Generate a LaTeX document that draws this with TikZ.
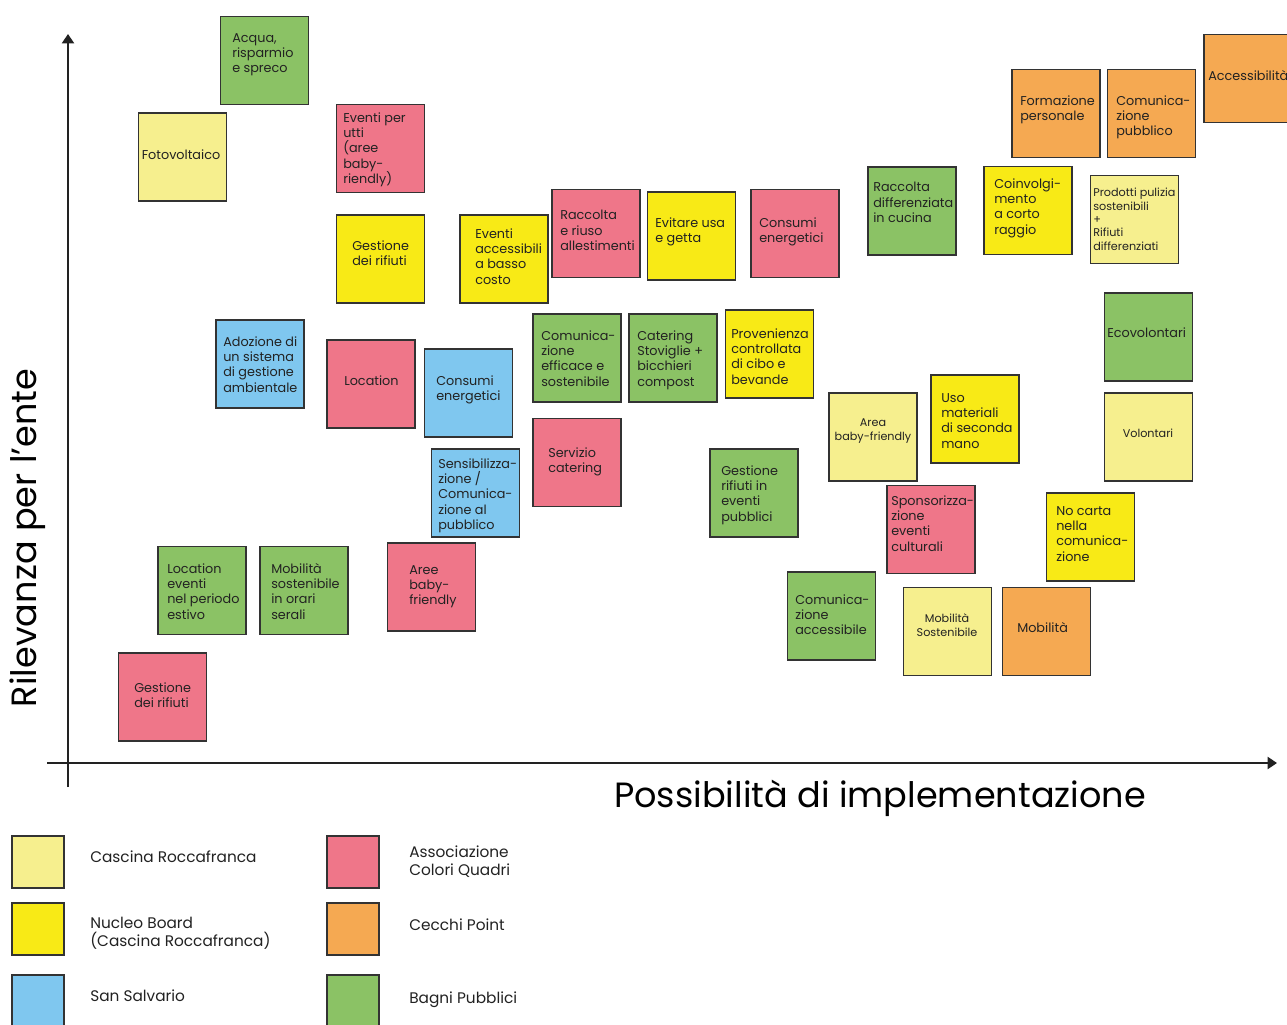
\documentclass[tikz,border=0pt]{standalone}
\usepackage{fontspec}
\setmainfont{Poppins}
\usetikzlibrary{arrows.meta}
\definecolor{cly}{HTML}{F6EF8E}
\definecolor{cyl}{HTML}{F8EA16}
\definecolor{cbl}{HTML}{7FC7EF}
\definecolor{cpk}{HTML}{EF7689}
\definecolor{cor}{HTML}{F5A952}
\definecolor{cgr}{HTML}{8BC265}
\definecolor{cbd}{HTML}{333333}
\definecolor{ctx}{HTML}{222222}
\begin{document}
\begin{tikzpicture}[x=0.75pt,y=-0.75pt,
  note/.style={draw=cbd,line width=1.3pt,minimum width=66pt,minimum height=66pt,inner sep=0pt,outer sep=0pt},
  lsq/.style={draw=cbd,line width=1.3pt,minimum width=39pt,minimum height=39pt,inner sep=0pt,outer sep=0pt},
  txt/.style={anchor=north west,inner sep=0pt,align=left,text=ctx,font=\fontsize{9.6}{11.5}\selectfont},
  stxt/.style={anchor=center,inner sep=0pt,align=center,text=ctx,font=\fontsize{8.4}{10}\selectfont},
  ltxt/.style={anchor=west,inner sep=0pt,align=left,text=ctx,font=\fontsize{11.5}{13.5}\selectfont},
  axis/.style={draw=ctx,line width=1.5pt,-{Triangle[length=7pt,width=9pt]}},
  axlab/.style={inner sep=0pt,text=black,font=\fontsize{26.3}{30}\selectfont}]
\useasboundingbox (0,0) rectangle (1287,1024);
\clip (0,0) rectangle (1287,1024);
\fill[white] (0,0) rectangle (1287,1024);

% axes
\coordinate (yb) at (68,787);
\coordinate (yt) at (68,34);
\coordinate (xl) at (47,763);
\coordinate (xr) at (1277,763);
\draw[axis] (yb) -- (yt);
\draw[axis] (xl) -- (xr);
\node[axlab,rotate=90] (ylab) at (28,538) {Rilevanza per l’ente};
\node[axlab] (xlab) at (880,798) {Possibilità di implementazione};

% notes
\node[note,fill=cgr] (n1) at (264.5,60.5) {};
\node[txt] (t1) at (232,33) {Acqua,\\risparmio\\e spreco};
\node[note,fill=cly] (n2) at (182.5,157) {};
\node[txt,anchor=center] (t2) at (181,155) {Fotovoltaico};
\node[note,fill=cpk] (n3) at (380.5,148.5) {};
\node[txt] (t3) at (343,112) {Eventi per\\utti\\(aree\\baby-\\riendly)};
\node[note,fill=cyl] (n4) at (380.5,259) {};
\node[txt] (t4) at (352,240) {Gestione\\dei rifiuti};
\node[note,fill=cyl] (n5) at (504,259) {};
\node[txt] (t5) at (475,228) {Eventi\\accessibili\\a basso\\costo};
\node[note,fill=cpk] (n6) at (596,233.5) {};
\node[txt] (t6) at (560,210) {Raccolta\\e riuso\\allestimenti};
\node[note,fill=cyl] (n7) at (691.5,236) {};
\node[txt] (t7) at (655,217) {Evitare usa\\e getta};
\node[note,fill=cpk] (n8) at (795,233.5) {};
\node[txt] (t8) at (759,217) {Consumi\\energetici};
\node[note,fill=cgr] (n9) at (912,211) {};
\node[txt] (t9) at (873,182) {Raccolta\\differenziata\\in cucina};
\node[note,fill=cyl] (n10) at (1028,210.5) {};
\node[txt] (t10) at (994,178) {Coinvolgi-\\mento\\a corto\\raggio};
\node[note,fill=cly] (n11) at (1134.5,219.5) {};
\node[txt,font=\fontsize{8.4}{10}\selectfont] (t11) at (1093,188) {Prodotti pulizia\\sostenibili\\+\\Rifiuti\\differenziati};
\node[note,fill=cor] (n12) at (1056,113.5) {};
\node[txt] (t12) at (1020,95) {Formazione\\personale};
\node[note,fill=cor] (n13) at (1151.5,113.5) {};
\node[txt] (t13) at (1116,95) {Comunica-\\zione\\pubblico};
\node[note,fill=cor,minimum width=72pt] (n14) at (1252,78.5) {};
\node[txt] (t14) at (1208,70) {Accessibilità};
\node[note,fill=cbl] (n15) at (260,364) {};
\node[txt] (t15) at (223,336) {Adozione di\\un sistema\\di gestione\\ambientale};
\node[note,fill=cpk] (n16) at (371,384) {};
\node[txt] (t16) at (344,375) {Location};
\node[note,fill=cbl] (n17) at (468.5,393) {};
\node[txt] (t17) at (436,375) {Consumi\\energetici};
\node[note,fill=cgr] (n18) at (577,358) {};
\node[txt] (t18) at (541,330) {Comunica-\\zione\\efficace e\\sostenibile};
\node[note,fill=cgr] (n19) at (673,358) {};
\node[txt] (t19) at (637,330) {Catering\\Stoviglie +\\bicchieri\\compost};
\node[note,fill=cyl] (n20) at (769.5,354) {};
\node[txt] (t20) at (731,328) {Provenienza\\controllata\\di cibo e\\bevande};
\node[note,fill=cbl] (n21) at (475.5,493) {};
\node[txt] (t21) at (438,458) {Sensibilizza-\\zione /\\Comunica-\\zione al\\pubblico};
\node[note,fill=cpk] (n22) at (577,462.5) {};
\node[txt] (t22) at (548,447) {Servizio\\catering};
\node[note,fill=cgr] (n23) at (754,493) {};
\node[txt] (t23) at (721,465) {Gestione\\rifiuti in\\eventi\\pubblici};
\node[note,fill=cly] (n24) at (873,437) {};
\node[stxt] (t24) at (873,431) {Area\\baby-friendly};
\node[note,fill=cyl] (n25) at (975,419) {};
\node[txt] (t25) at (941,393) {Uso\\materiali\\di seconda\\mano};
\node[note,fill=cgr] (n26) at (1148.5,337) {};
\node[txt] (t26) at (1107,327) {Ecovolontari};
\node[note,fill=cly] (n27) at (1148.5,437) {};
\node[stxt] (t27) at (1148,433) {Volontari};
\node[note,fill=cpk] (n28) at (931,529.5) {};
\node[txt] (t28) at (891,495) {Sponsorizza-\\zione\\eventi\\culturali};
\node[note,fill=cyl] (n29) at (1090.5,537) {};
\node[txt] (t29) at (1056,506) {No carta\\nella\\comunica-\\zione};
\node[note,fill=cgr] (n30) at (202,590.5) {};
\node[txt] (t30) at (167,563) {Location\\eventi\\nel periodo\\estivo};
\node[note,fill=cgr] (n31) at (304,590.5) {};
\node[txt] (t31) at (271,563) {Mobilità\\sostenibile\\in orari\\serali};
\node[note,fill=cpk] (n32) at (431.5,587) {};
\node[txt] (t32) at (409,565) {Aree\\baby-\\friendly};
\node[note,fill=cpk] (n33) at (162.5,697) {};
\node[txt] (t33) at (134,682) {Gestione\\dei rifiuti};
\node[note,fill=cgr] (n34) at (831.5,616) {};
\node[txt] (t34) at (795,594) {Comunica-\\zione\\accessibile};
\node[note,fill=cly] (n35) at (947.5,631.5) {};
\node[stxt] (t35) at (947,625) {Mobilità\\Sostenibile};
\node[note,fill=cor] (n36) at (1046.5,631.5) {};
\node[txt] (t36) at (1017,622) {Mobilità};

% legend
\node[lsq,fill=cly] (l1) at (38,862) {};
\node[ltxt] (lt1) at (90,857) {Cascina Roccafranca};
\node[lsq,fill=cyl] (l2) at (38,929) {};
\node[ltxt] (lt2) at (90,933) {Nucleo Board\\(Cascina Roccafranca)};
\node[lsq,fill=cbl] (l3) at (38,1001) {};
\node[ltxt] (lt3) at (90,996) {San Salvario};
\node[lsq,fill=cpk] (l4) at (353,862) {};
\node[ltxt] (lt4) at (409,862) {Associazione\\Colori Quadri};
\node[lsq,fill=cor] (l5) at (353,929) {};
\node[ltxt] (lt5) at (409,925) {Cecchi Point};
\node[lsq,fill=cgr] (l6) at (353,1001) {};
\node[ltxt] (lt6) at (409,1000) {Bagni Pubblici};
\end{tikzpicture}
\end{document}
